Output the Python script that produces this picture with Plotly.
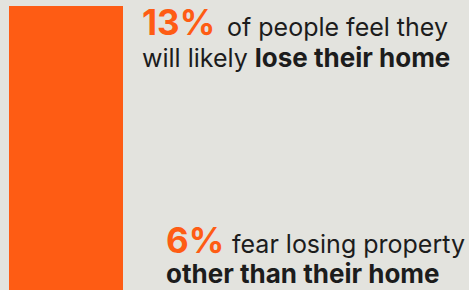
import plotly.graph_objects as go

categories = ["lose their home"]
values = [13]

W, H = 469, 290
BG = "#e3e3de"
ORANGE = "#fe5c14"
DARK = "#1c1c1c"
FONT = "Inter"

fig = go.Figure(go.Bar(x=[0], y=values, width=1, marker=dict(color=ORANGE, line=dict(width=0)),
                       hoverinfo="skip"))

px_per_unit = 114
x0 = -0.5 - 9 / px_per_unit
fig.update_xaxes(range=[x0, x0 + W / px_per_unit], visible=False, fixedrange=True)
fig.update_yaxes(range=[0, values[0] * H / (H - 6)], visible=False, fixedrange=True)

def px(x):
    return x / W

def py(y):
    return 1 - y / H

def add(text, x, baseline, size, color=DARK):
    fig.add_annotation(text=text, x=px(x), y=py(baseline + 0.27 * size), xref="paper", yref="paper",
                       xanchor="left", yanchor="bottom", showarrow=False, borderpad=0,
                       font=dict(family=FONT, size=size, color=color))

S = 25
add("<b>13%</b>", 141, 35, 35, ORANGE)
add("of people feel they", 226, 36, S)
add("will likely <b><span style='font-size:26px'>lose their home</span></b>", 141, 67, S)
add("<b>6%</b>", 165, 253, 35, ORANGE)
add("fear losing property", 231, 253, S)
add("<b>other than their home</b>", 165, 283, 26)

fig.update_layout(width=W, height=H, margin=dict(l=0, r=0, t=0, b=0), paper_bgcolor=BG,
                  plot_bgcolor=BG, showlegend=False)
fig.write_html("out.html", config={"displayModeBar": False, "staticPlot": True},
               post_script="document.body.style.margin='0';document.body.style.overflow='hidden';")
